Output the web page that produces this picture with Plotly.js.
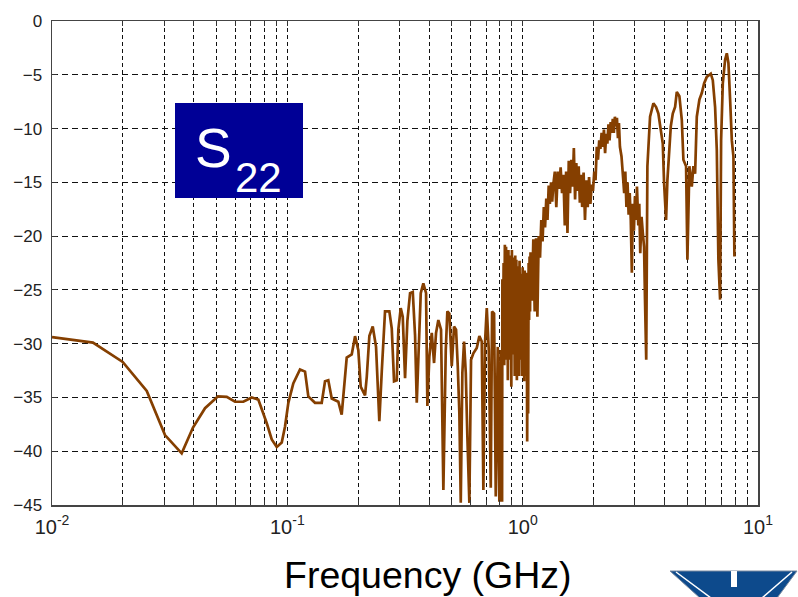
<!DOCTYPE html>
<html>
<head>
<meta charset="utf-8">
<script src="https://cdn.plot.ly/plotly-3.0.1.min.js"></script>
<style>html,body{margin:0;padding:0;background:#fff;}#chart{width:798px;height:597px;}</style>
</head>
<body>
<div id="chart"></div>
<script>
// Frequency in GHz
const freqGHz = [
0.0100,0.01493,0.01997,0.02527,0.03021,0.03557,0.03973,0.04469,0.05075,0.05527,
0.05993,0.06501,0.07058,0.07529,0.08177,0.08585,0.09016,0.09467,0.09777,0.1010,
0.1060,0.1132,0.1189,0.1228,0.1311,0.1400,0.1446,0.1493,0.1544,0.1647,
0.1702,0.1758,0.1788,0.1878,0.1940,0.2003,0.2050,0.2139,0.2175,0.2231,
0.2306,0.2382,0.2460,0.2519,0.2601,0.2713,0.2778,0.2841,0.2917,0.2963,
0.3033,0.3093,0.3164,0.3236,0.3323,0.3412,0.3489,0.3548,0.3604,0.3689,
0.3784,0.3886,0.3936,0.4013,0.4109,0.4202,0.4285,0.4382,0.4499,0.4603,
0.4712,0.4786,0.4881,0.4996,0.5110,0.5212,0.5299,0.5383,0.5457,0.5543,
0.5636,0.5731,0.5821,0.5936,0.6035,0.6173,0.6381,0.6546,0.6702,0.6808,
0.6922,0.7038,0.7177,0.7319,0.7413,0.7560,0.7686,0.7838,0.7962,0.8071,
0.8176,
0.820,0.825,0.830,0.835,0.840,0.845,0.850,0.855,0.860,0.865,0.870,0.875,0.880,0.885,0.890,0.895,
0.900,0.905,0.910,0.915,0.920,0.925,0.930,0.935,0.940,0.945,0.950,0.955,0.960,0.965,0.970,0.975,
0.980,0.985,0.990,0.995,1.000,1.005,1.010,1.015,1.020,1.025,1.030,1.035,1.040,1.045,1.050,1.055,
1.060,1.065,1.070,1.075,1.080,
1.095,1.11,1.125,1.14,1.155,1.17,1.185,1.20,1.215,1.23,1.245,1.26,1.275,1.29,1.305,1.32,1.335,1.35,
1.37,1.39,1.41,1.43,1.45,1.47,1.49,1.51,1.53,1.55,1.57,1.59,1.61,1.63,1.65,1.67,1.69,1.71,1.73,1.75,1.77,1.79,
1.815,1.84,1.865,1.89,1.915,1.94,1.965,1.99,2.015,2.04,2.065,2.09,2.115,2.14,2.165,2.19,
2.215,2.24,2.265,2.29,2.315,2.34,2.365,2.39,2.415,2.44,2.465,2.49,2.515,2.54,2.565,2.59,
2.63,2.67,2.70,2.73,2.76,2.79,2.82,2.85,2.88,2.91,2.94,2.97,3.00,3.03,3.06,3.10,3.13,3.16,3.20,3.24,3.28,3.31,3.35,
3.3884,3.4785,3.5932,3.6897,
3.7730,3.8625,3.9390,3.9902,4.0681,4.1210,4.2024,4.2600,4.3442,4.4433,
4.5176,4.6345,4.7446,4.8195,4.9478,5.0119,5.1111,5.2325,5.3152,5.4041,
5.4946,5.6364,5.7703,5.9007,6.0590,6.3009,6.4255,6.5722,6.6823,6.7879,
6.9015,6.9702,7.0867,7.2484,7.3697,7.4862,7.6115,7.7405,7.8628,7.9388
];
// S22 magnitude in dB
const s22dB = [
-29.4,-29.9,-31.7,-34.4,-38.5,-40.2,-37.8,-36.0,-34.9,-34.95,
-35.4,-35.4,-35.0,-35.2,-37.4,-38.9,-39.6,-39.2,-37.7,-35.5,
-33.7,-32.4,-32.6,-34.9,-35.5,-35.5,-33.5,-33.4,-35.1,-35.4,
-36.6,-33.1,-31.3,-31.0,-29.3,-30.6,-34.0,-34.8,-33.1,-29.3,
-28.4,-30.3,-37.2,-32.6,-27.0,-27.0,-28.6,-33.5,-33.4,-28.7,
-26.7,-27.5,-33.2,-27.9,-25.3,-25.2,-29.2,-35.5,-30.7,-25.3,
-24.4,-25.3,-35.8,-31.2,-29.0,-31.8,-29.0,-27.8,-28.7,-43.6,
-30.6,-27.0,-27.2,-32.1,-28.4,-28.7,-32.1,-36.5,-44.8,-32.7,
-29.8,-32.7,-38.6,-44.8,-31.5,-30.9,-30.4,-29.3,-29.8,-43.6,
-29.8,-26.7,-30.6,-43.4,-27.0,-27.2,-44.2,-30.3,-44.7,-30.6,
-44.7,
-24.0,-31.5,-22.5,-32.0,-20.8,-31.0,-21.0,-31.5,-21.3,-33.4,-21.3,-29.5,-21.8,-31.5,-22.3,-34.0,
-21.3,-31.0,-22.0,-29.5,-22.6,-33.0,-21.8,-30.5,-22.2,-33.4,-22.8,-31.0,-23.0,-33.0,-22.3,-29.5,
-24.5,-31.5,-23.5,-33.0,-22.9,-30.5,-23.4,-33.5,-23.2,-31.0,-24.0,-33.0,-23.4,-39.1,-25.0,-36.5,
-22.5,-27.8,-21.9,-27.0,-21.5,
-26.0,-20.3,-27.0,-20.2,-27.5,-20.0,-22.0,-18.5,-20.5,-17.3,-19.2,-16.5,-18.5,-15.3,-17.0,-15.0,-16.8,-15.2,
-14.0,-17.3,-14.0,-15.6,-13.6,-16.0,-14.3,-19.0,-14.0,-19.7,-13.0,-16.0,-12.9,-15.4,-11.8,-16.6,-13.2,-15.8,-13.5,-16.9,-14.3,-17.3,
-14.1,-18.5,-14.8,-17.3,-14.5,-17.0,-15.2,-15.8,-14.0,-14.8,-11.7,-12.9,-11.1,-11.9,-10.4,-11.7,
-10.1,-12.3,-10.5,-11.4,-9.6,-11.1,-9.4,-10.4,-9.1,-10.4,-8.9,-9.8,-9.0,-10.9,-9.5,-11.7,
-12.6,-14.5,-16.0,-14.0,-17.3,-15.0,-18.0,-16.0,-18.5,-23.4,-17.0,-19.5,-16.3,-18.5,-15.4,-19.0,-17.0,-21.6,-18.2,-19.7,-21.0,-25.9,-31.5,
-13.5,-8.9,-7.65,-8.0,
-8.6,-10.4,-11.4,-15.1,-18.5,-14.8,-11.7,-9.8,-8.6,-8.0,
-6.6,-7.0,-9.2,-12.9,-13.5,-22.2,-13.5,-15.4,-13.5,-14.2,
-8.9,-7.3,-6.7,-5.8,-5.2,-4.9,-5.5,-8.0,-12.0,-22.2,
-25.9,-11.1,-5.8,-3.6,-3.0,-3.9,-7.3,-11.1,-12.6,-21.9
];
// Axis ticks
const xDecades = [0.01, 0.1, 1, 10];
const xDecadeLabels = ['10<sup>-2</sup>', '10<sup>-1</sup>', '10<sup>0</sup>', '10<sup>1</sup>'];
const yTicks = [0, -5, -10, -15, -20, -25, -30, -35, -40, -45];
const boxLabel = 'S';
const boxSub = '22';
const xTitle = 'Frequency (GHz)';

const W = 798, H = 597, L = 52, R = 758, T = 21, B = 505;
const px = x => (x - L) / (R - L);
const py = y => (B - y) / (B - T);

const font = 'Liberation Sans, Arial, Helvetica, sans-serif';

const trace = {
  x: freqGHz, y: s22dB, type: 'scatter', mode: 'lines',
  line: {color: '#853f00', width: 2.7},
  hoverinfo: 'skip'
};

const logoPath = `M ${px(670)} ${py(571)} L ${px(797)} ${py(571)} L ${px(777)} ${py(598)} L ${px(700)} ${py(598)} Z`;

const layout = {
  width: W, height: H,
  margin: {l: L, r: W - R, t: T, b: H - B, pad: 0},
  paper_bgcolor: '#ffffff', plot_bgcolor: '#ffffff',
  showlegend: false,
  xaxis: {
    type: 'log', range: [-2, 1],
    tickmode: 'array', tickvals: xDecades, ticktext: xDecadeLabels,
    ticks: 'inside', ticklen: 5, tickcolor: '#333', tickwidth: 1,
    showline: true, linecolor: '#444', linewidth: 1.5, mirror: 'ticks',
    showgrid: true, gridcolor: '#111', gridwidth: 1, griddash: '4px,3px',
    zeroline: false,
    tickfont: {family: font, size: 20, color: '#222'},
    ticklabelstandoff: 3,
    minor: {dtick: 'D1', ticks: 'inside', ticklen: 5, tickcolor: '#333', tickwidth: 1,
            showgrid: true, gridcolor: '#111', gridwidth: 1, griddash: '4px,3px'}
  },
  yaxis: {
    range: [-45, 0], tickmode: 'array', tickvals: yTicks,
    ticks: 'inside', ticklen: 5, tickcolor: '#333', tickwidth: 1,
    showline: true, linecolor: '#444', linewidth: 1.5, mirror: 'ticks',
    showgrid: true, gridcolor: '#111', gridwidth: 1, griddash: '6px,4px',
    zeroline: false,
    tickfont: {family: font, size: 17, color: '#222'},
    ticklabelstandoff: 5
  },
  shapes: [
    {type: 'rect', xref: 'paper', yref: 'paper',
     x0: px(175), x1: px(303), y0: py(198), y1: py(103),
     fillcolor: '#000096', line: {width: 0}, layer: 'above'},
    {type: 'path', xref: 'paper', yref: 'paper', path: logoPath,
     fillcolor: '#0d4a8c', line: {color: '#7a8aa0', width: 1}},
    {type: 'line', xref: 'paper', yref: 'paper',
     x0: px(676), y0: py(572), x1: px(711), y1: py(598), line: {color: '#ffffff', width: 1.5}},
    {type: 'line', xref: 'paper', yref: 'paper',
     x0: px(792), y0: py(572), x1: px(762), y1: py(598), line: {color: '#ffffff', width: 1.5}},
    {type: 'rect', xref: 'paper', yref: 'paper',
     x0: px(731), x1: px(737), y0: py(587), y1: py(571),
     fillcolor: '#ffffff', line: {width: 0}}
  ],
  annotations: [
    {xref: 'paper', yref: 'paper', x: px(213), y: py(148), xanchor: 'center', yanchor: 'middle',
     text: boxLabel, showarrow: false, font: {family: font, size: 55, color: '#ffffff'}},
    {xref: 'paper', yref: 'paper', x: px(258), y: py(177), xanchor: 'center', yanchor: 'middle',
     text: boxSub, showarrow: false, font: {family: font, size: 42, color: '#ffffff'}},
    {xref: 'paper', yref: 'paper', x: px(428), y: py(575), xanchor: 'center', yanchor: 'middle',
     text: xTitle, showarrow: false, font: {family: font, size: 37.5, color: '#000000'}}
  ]
};

Plotly.newPlot('chart', [trace], layout, {displayModeBar: false, staticPlot: true});
</script>
</body>
</html>
